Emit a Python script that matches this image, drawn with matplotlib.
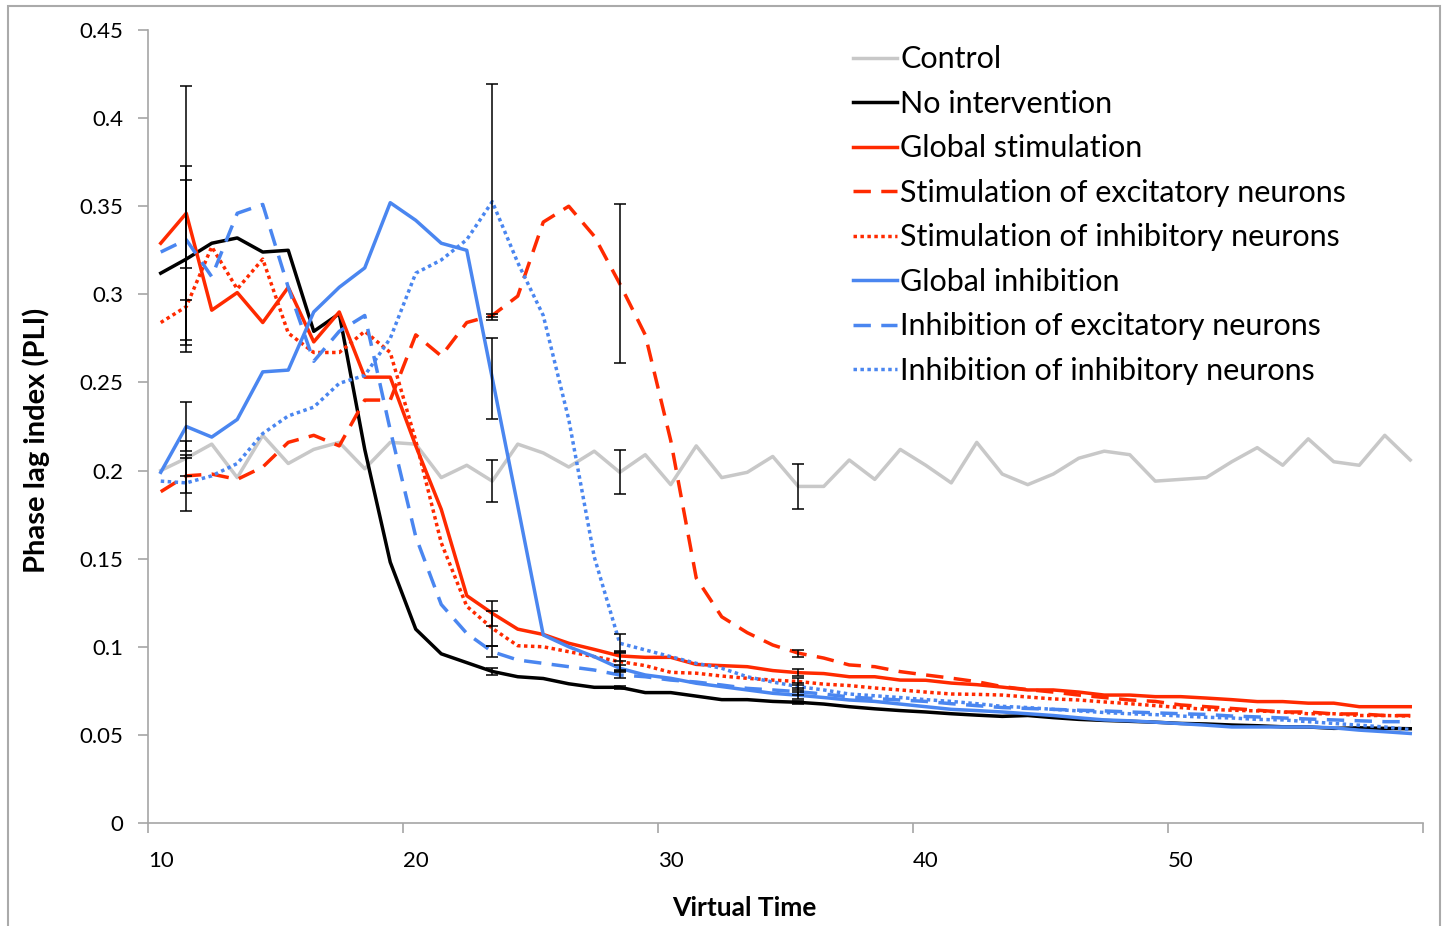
import matplotlib.pyplot as plt
import matplotlib.patches as mpatches

# virtual time steps (one category per step)
time = list(range(10, 60))

control = [0.200, 0.207, 0.215, 0.196, 0.220, 0.204, 0.212, 0.216, 0.201, 0.216,
           0.215, 0.196, 0.203, 0.194, 0.215, 0.210, 0.202, 0.211, 0.199, 0.209,
           0.192, 0.214, 0.196, 0.199, 0.208, 0.191, 0.191, 0.206, 0.195, 0.212,
           0.203, 0.193, 0.216, 0.198, 0.192, 0.198, 0.207, 0.211, 0.209, 0.194,
           0.195, 0.196, 0.205, 0.213, 0.203, 0.218, 0.205, 0.203, 0.220, 0.206]
no_interv = [0.312, 0.320, 0.329, 0.332, 0.324, 0.325, 0.279, 0.289, 0.212, 0.148,
             0.110, 0.096, 0.091, 0.086, 0.083, 0.082, 0.079, 0.077, 0.077, 0.074,
             0.074, 0.072, 0.070, 0.070, 0.069, 0.0685, 0.0675, 0.066, 0.0648, 0.0638,
             0.063, 0.062, 0.0612, 0.0605, 0.061, 0.0598, 0.0588, 0.0582, 0.0577, 0.0572,
             0.0565, 0.0562, 0.0556, 0.0552, 0.0546, 0.0545, 0.0537, 0.054, 0.0537, 0.0535]
glob_stim = [0.329, 0.346, 0.291, 0.301, 0.284, 0.304, 0.273, 0.290, 0.253, 0.253,
             0.214, 0.178, 0.129, 0.119, 0.110, 0.107, 0.102, 0.0985, 0.0948, 0.094,
             0.094, 0.090, 0.0893, 0.0887, 0.0865, 0.0853, 0.0848, 0.083, 0.083, 0.0811,
             0.081, 0.0794, 0.0785, 0.0771, 0.0755, 0.0755, 0.0743, 0.0726, 0.0726, 0.0717,
             0.0717, 0.0709, 0.070, 0.0689, 0.0689, 0.068, 0.068, 0.066, 0.066, 0.066]
stim_exc = [0.188, 0.197, 0.198, 0.195, 0.202, 0.216, 0.220, 0.214, 0.240, 0.240,
            0.277, 0.265, 0.284, 0.288, 0.299, 0.341, 0.350, 0.333, 0.306, 0.277,
            0.217, 0.139, 0.117, 0.108, 0.101, 0.0964, 0.0936, 0.0897, 0.0887, 0.0859,
            0.084, 0.0822, 0.0802, 0.0774, 0.0757, 0.0743, 0.0726, 0.0712, 0.0698, 0.069,
            0.067, 0.066, 0.065, 0.064, 0.063, 0.063, 0.0619, 0.0619, 0.061, 0.061]
stim_inh = [0.284, 0.293, 0.327, 0.303, 0.320, 0.278, 0.267, 0.267, 0.279, 0.267,
            0.217, 0.159, 0.123, 0.1105, 0.1006, 0.100, 0.0972, 0.0944, 0.0916, 0.0893,
            0.0855, 0.085, 0.0834, 0.0821, 0.0811, 0.0803, 0.0788, 0.078, 0.0766, 0.0755,
            0.0743, 0.0732, 0.073, 0.0726, 0.0715, 0.0704, 0.0698, 0.0687, 0.0677, 0.0666,
            0.0655, 0.0645, 0.064, 0.0636, 0.063, 0.062, 0.062, 0.061, 0.061, 0.0607]
glob_inh = [0.199, 0.225, 0.219, 0.229, 0.256, 0.257, 0.290, 0.304, 0.315, 0.352,
            0.342, 0.329, 0.325, 0.2525, 0.180, 0.1067, 0.100, 0.0944, 0.0878, 0.084,
            0.0821, 0.0793, 0.0774, 0.0755, 0.0736, 0.0725, 0.0712, 0.0698, 0.069, 0.0675,
            0.066, 0.0645, 0.0638, 0.063, 0.062, 0.061, 0.0597, 0.0585, 0.058, 0.0572,
            0.0564, 0.0555, 0.0545, 0.0545, 0.0545, 0.0545, 0.054, 0.0527, 0.0518, 0.0508]
inh_exc = [0.324, 0.331, 0.310, 0.346, 0.351, 0.304, 0.262, 0.279, 0.288, 0.223,
           0.1625, 0.124, 0.1076, 0.0972, 0.0925, 0.0906, 0.0887, 0.0868, 0.084, 0.083,
           0.0811, 0.080, 0.0783, 0.0764, 0.0755, 0.0745, 0.0732, 0.0715, 0.0706, 0.0698,
           0.069, 0.0677, 0.0666, 0.0655, 0.065, 0.0645, 0.064, 0.0636, 0.063, 0.0625,
           0.062, 0.0616, 0.0607, 0.0602, 0.0596, 0.059, 0.0585, 0.058, 0.0575, 0.0575]
inh_inh = [0.194, 0.193, 0.197, 0.204, 0.221, 0.231, 0.236, 0.2495, 0.254, 0.275,
           0.312, 0.3195, 0.331, 0.3526, 0.318, 0.288, 0.229, 0.151, 0.102, 0.0982,
           0.0944, 0.0906, 0.0878, 0.083, 0.080, 0.0774, 0.0755, 0.0732, 0.0722, 0.0712,
           0.070, 0.069, 0.0677, 0.0662, 0.0655, 0.0645, 0.0636, 0.0627, 0.062, 0.0615,
           0.0607, 0.060, 0.0596, 0.0588, 0.0585, 0.0575, 0.0565, 0.0555, 0.0545, 0.053]

# error bars only shown at a few time points
err_x = [11, 23, 28, 35]
err_control = [0.010, 0.012, 0.0125, 0.0128]
err_no_interv = [0.053, 0.002, 0.001, 0.001]
err_glob_stim = [0.072, 0.007, 0.003, 0.002]
err_stim_exc = [0.010, 0.001, 0.045, 0.002]
err_stim_inh = [0.022, 0.010, 0.005, 0.002]
err_glob_inh = [0.014, 0.023, 0.002, 0.002]
err_inh_exc = [0.034, 0.003, 0.002, 0.002]
err_inh_inh = [0.016, 0.067, 0.005, 0.002]

RED = '#FF2A00'
BLUE = '#4A86F0'
GREY = '#C8C8C8'

series = [
    ('Control', control, err_control, GREY, '-'),
    ('No intervention', no_interv, err_no_interv, 'black', '-'),
    ('Global stimulation', glob_stim, err_glob_stim, RED, '-'),
    ('Stimulation of excitatory neurons', stim_exc, err_stim_exc, RED, (0, (5, 3))),
    ('Stimulation of inhibitory neurons', stim_inh, err_stim_inh, RED, (0, (1, 1))),
    ('Global inhibition', glob_inh, err_glob_inh, BLUE, '-'),
    ('Inhibition of excitatory neurons', inh_exc, err_inh_exc, BLUE, (0, (5, 3))),
    ('Inhibition of inhibitory neurons', inh_inh, err_inh_inh, BLUE, (0, (1, 1))),
]

plt.rcParams['font.family'] = ['Lato', 'DejaVu Sans']

fig = plt.figure(figsize=(14.43, 9.26), dpi=100)
ax = fig.add_axes([148 / 1443, 1 - 823 / 926, (1423 - 148) / 1443, (823 - 30) / 926])

for name, vals, errs, color, ls in series:
    ax.plot(time, vals, color=color, linestyle=ls, linewidth=2.5, label=name)

for name, vals, errs, color, ls in series:
    ys = [vals[time.index(t)] for t in err_x]
    ax.errorbar(err_x, ys, yerr=errs, fmt='none', ecolor='black',
                elinewidth=1.1, capsize=4, capthick=1.1, zorder=5)

ax.set_xlim(9.5, 59.5)
ax.set_ylim(0, 0.45)
ax.set_yticks([0, 0.05, 0.1, 0.15, 0.2, 0.25, 0.3, 0.35, 0.4, 0.45])
ax.set_yticklabels(['0', '0.05', '0.1', '0.15', '0.2', '0.25', '0.3', '0.35', '0.4', '0.45'])

# tick marks sit between categories, labels sit on the categories
ax.set_xticks([9.5, 19.5, 29.5, 39.5, 49.5, 59.5])
ax.set_xticklabels([])
ax.set_xticks([10, 20, 30, 40, 50], minor=True)
ax.set_xticklabels(['10', '20', '30', '40', '50'], minor=True)
ax.tick_params(axis='x', which='major', length=7, color='#A6A6A6', width=1.2)
ax.tick_params(axis='x', which='minor', length=0, pad=20, labelsize=16)
ax.tick_params(axis='y', length=7, color='#A6A6A6', width=1.2, pad=11, labelsize=16)

for s in ['top', 'right']:
    ax.spines[s].set_visible(False)
for s in ['left', 'bottom']:
    ax.spines[s].set_color('#A6A6A6')
    ax.spines[s].set_linewidth(1.2)

ax.set_xlabel('Virtual Time', fontsize=19, fontweight='bold')
ax.xaxis.set_label_coords(0.468, -0.092)
ax.set_ylabel('Phase lag index (PLI)', fontsize=21, fontweight='bold')
ax.yaxis.set_label_coords(-0.077, 0.483)

ax.legend(loc='upper left', bbox_to_anchor=(0.5435, 0.996), frameon=False,
          fontsize=22, handlelength=1.44, handletextpad=0.1, labelspacing=0.54,
          borderaxespad=0)

fig.patches.append(mpatches.Rectangle((8 / 1443, -0.01), (1440 - 8) / 1443, 1.0035,
                                      transform=fig.transFigure, fill=False,
                                      edgecolor='#AAAAAA', linewidth=1.5))

fig.savefig('out.png', dpi=100)
